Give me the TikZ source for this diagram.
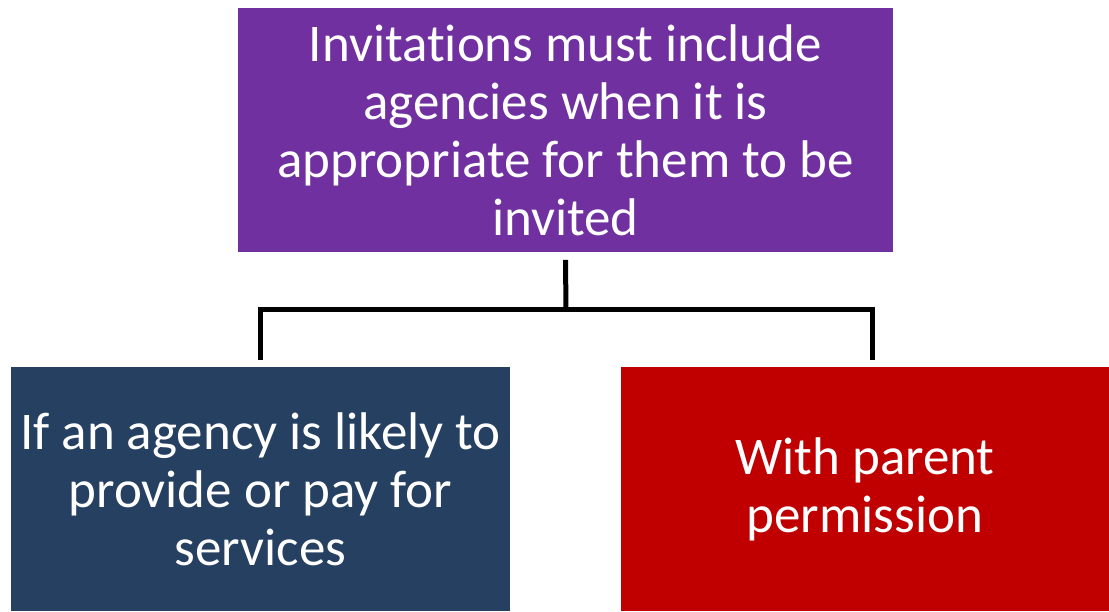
\documentclass[tikz,border=0pt]{standalone}
\usepackage{fontspec}
\setmainfont{Carlito}[Ligatures=CommonOff]
\usepackage{tikz}

\definecolor{boxpurple}{HTML}{7030A0}
\definecolor{boxnavy}{HTML}{264061}
\definecolor{boxred}{HTML}{C00000}

\begin{document}
\begin{tikzpicture}[x=0.5pt,y=0.5pt,line cap=butt]

    \def\boxh{122pt}
    \def\gap{3.5pt}

    % Styles
    \tikzstyle{box}=[rectangle, inner sep=0pt, text=white, align=flush center,
        minimum height=\boxh, font=\fontsize{26.5}{29}\selectfont]
    \tikzstyle{connector}=[draw=black, line width=2.5pt]

    \useasboundingbox (0,0) rectangle (1109,611);

    % top box
    \node[box, fill=boxpurple, minimum width=327.5pt, text width=327pt] (top) at (565.5,480.5)
        {Invitations must include\\agencies when it is\\appropriate for them to be\\invited};

    % left box
    \node[box, fill=boxnavy, minimum width=249.5pt, text width=249pt] (left) at (260.5,122)
        {If an agency is likely to\\provide or pay for\\services};

    % right box
    \node[box, fill=boxred, minimum width=244pt, text width=243pt] (right) at (865,122)
        {With parent\\permission};

    % branch lines
    \coordinate (bar) at (566,301);
    \draw[connector] ([yshift=-\gap]top.south) -- (bar);
    \draw[connector] ([yshift=\gap]left.north) |- (bar);
    \draw[connector] (bar) -| ([xshift=\gap,yshift=\gap]right.north);

\end{tikzpicture}
\end{document}
